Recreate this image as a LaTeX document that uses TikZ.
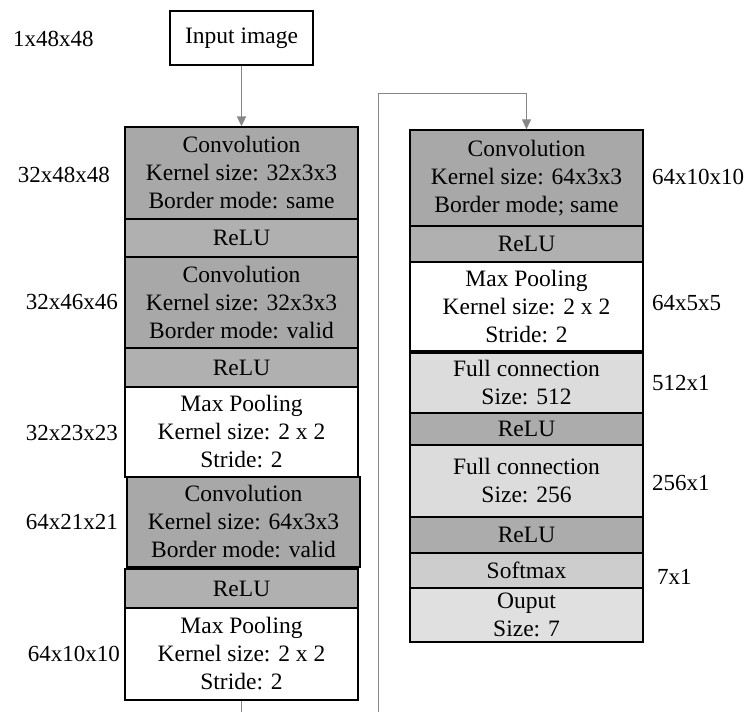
\documentclass[tikz,border=0pt]{standalone}
\usepackage{fontspec}
\setmainfont{Liberation Serif}
\usetikzlibrary{arrows.meta}
\definecolor{convgray}{RGB}{168,168,168}
\definecolor{relugray}{RGB}{176,176,176}
\definecolor{relubgray}{RGB}{172,172,172}
\definecolor{fcgray}{RGB}{220,220,220}
\definecolor{softgray}{RGB}{205,205,205}
\definecolor{outgray}{RGB}{224,224,224}
\definecolor{conngray}{RGB}{135,135,135}
\tikzset{
  lyr/.style={draw=black, line width=1.3pt, inner sep=0pt, minimum width=233pt,
    align=center, font=\fontsize{23.5}{28}\selectfont},
  dimlbl/.style={inner sep=0pt, font=\fontsize{23}{28}\selectfont},
  conn/.style={draw=conngray, line width=1pt},
  tip/.style={-{Triangle[width=9pt,length=10pt]}}
}
\begin{document}
\begin{tikzpicture}[x=1pt,y=-1pt]
\useasboundingbox (0,0) rectangle (747,712);
\begin{scope}
\clip (0,0) rectangle (747,712);
% Input
\node[draw=black, line width=1.1pt, inner sep=0pt, minimum width=143pt, minimum height=54pt,
  font=\fontsize{23.5}{28}\selectfont] (inp) at (241.5,38) {Input image};
% Left column
\node[lyr, fill=convgray, minimum height=92pt] (conv1) at (241.5,173) {Convolution\\Kernel size: 32x3x3\\Border mode: same};
\node[lyr, fill=relugray, minimum height=38pt] (relu1) at (241.5,238) {ReLU};
\node[lyr, fill=convgray, minimum height=91pt] (conv2) at (241.5,302.5) {Convolution\\Kernel size: 32x3x3\\Border mode: valid};
\node[lyr, fill=relugray, minimum height=39pt] (relu2) at (241.5,367.5) {ReLU};
\node[lyr, fill=white, minimum height=90pt] (pool1) at (241.5,432) {Max Pooling\\Kernel size: 2 x 2\\Stride: 2};
\node[lyr, fill=convgray, minimum height=90pt] (conv3) at (243.5,522) {Convolution\\Kernel size: 64x3x3\\Border mode: valid};
\node[lyr, fill=relugray, minimum height=39pt] (relu3) at (241.5,588.5) {ReLU};
\node[lyr, fill=white, minimum height=92pt] (pool2) at (241.5,654) {Max Pooling\\Kernel size: 2 x 2\\Stride: 2};
% Right column
\node[lyr, fill=convgray, minimum height=96pt] (conv4) at (526.5,178) {Convolution\\Kernel size: 64x3x3\\Border mode; same};
\node[lyr, fill=relugray, minimum height=36pt] (relu4) at (526.5,244) {ReLU};
\node[lyr, fill=white, minimum height=89pt] (pool3) at (526.5,306.5) {Max Pooling\\Kernel size: 2 x 2\\Stride: 2};
\node[lyr, fill=fcgray, minimum height=60pt] (fc1) at (526.5,383) {Full connection\\Size: 512};
\node[lyr, fill=relubgray, minimum height=32pt] (relu5) at (526.5,429) {ReLU};
\node[lyr, fill=fcgray, minimum height=72pt] (fc2) at (526.5,481) {Full connection\\Size: 256};
\node[lyr, fill=relubgray, minimum height=36pt] (relu6) at (526.5,535) {ReLU};
\node[lyr, fill=softgray, minimum height=35pt] (soft) at (526.5,570.5) {Softmax};
\node[lyr, fill=outgray, minimum height=54pt] (out) at (526.5,615) {Ouput\\Size: 7};
% Dimension labels
\node[dimlbl, anchor=west] (d0) at (13,39) {1x48x48};
\node[dimlbl, anchor=east] (d1) at (110,175) {32x48x48};
\node[dimlbl, anchor=east] (d2) at (118,302) {32x46x46};
\node[dimlbl, anchor=east] (d3) at (118,433) {32x23x23};
\node[dimlbl, anchor=east] (d4) at (118,522) {64x21x21};
\node[dimlbl, anchor=east] (d5) at (120,654) {64x10x10};
\node[dimlbl, anchor=west] (r1) at (652,177) {64x10x10};
\node[dimlbl, anchor=west] (r2) at (652,303) {64x5x5};
\node[dimlbl, anchor=west] (r3) at (652,383) {512x1};
\node[dimlbl, anchor=west] (r4) at (652,483) {256x1};
\node[dimlbl, anchor=west] (r5) at (657,577) {7x1};
% Connectors
\draw[conn, line width=1.8pt, tip] (inp.south) -- (conv1.north);
\coordinate (low) at (378,740);
\coordinate (turn) at (378,93);
\draw[conn, tip] (pool2.south) |- (low) -- (turn) -| (conv4.north);
\end{scope}
\end{tikzpicture}
\end{document}
